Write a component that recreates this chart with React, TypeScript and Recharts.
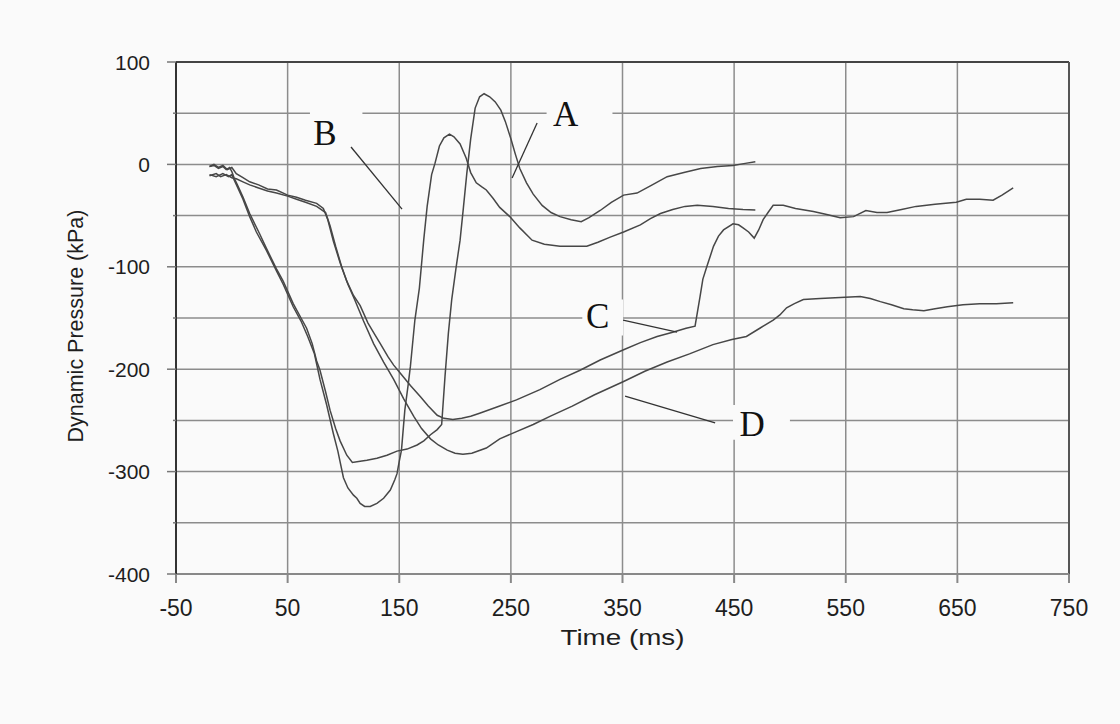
import {
  CartesianGrid,
  Label,
  Line,
  LineChart,
  ReferenceArea,
  ReferenceDot,
  ReferenceLine,
  XAxis,
  YAxis,
} from "recharts";

// axis ticks
const timeTicks = [-50, 50, 150, 250, 350, 450, 550, 650, 750];
const pressureTicks = [100, 50, 0, -50, -100, -150, -200, -250, -300, -350, -400];

// curve A (fast dive, peak ~69 kPa)
const aTime = [
  -20, -16, -12, -8, -5, -2, 0, 2, 5, 10, 16, 25, 31, 40, 46, 55, 62, 67, 72, 76, 79, 84, 88, 93, 97, 103,
  108, 115, 121, 130, 139, 148, 157, 166, 172, 178, 184, 188, 191, 194, 197, 201, 204.5, 207.5, 210.5, 214,
  218, 222, 226, 231, 236, 241, 245, 250, 254, 258, 264, 270, 278, 286, 294, 304, 313, 320, 330, 340, 351,
  363, 375, 390, 405, 420, 435, 449, 460, 469,
];
const aPressure = [
  -2, -1, -4, -2, -5, -3, -7, -13, -20, -32, -48, -68, -82, -102, -114, -136, -150, -160, -175, -192, -201,
  -222, -240, -258, -270, -284, -291, -290, -289, -287, -284, -280, -278, -274, -270, -264, -259, -254, -207,
  -165, -132, -100, -74, -42, -9, 25, 55, 66, 69, 66, 61, 53, 42, 25, 10, -4, -18, -29, -40, -47, -51, -54,
  -56, -52, -45, -37, -30, -28, -21, -12, -8, -4, -2, -1, 1, 2.6,
];

// curve B (deepest dive, peak ~30 kPa)
const bTime = [
  -20, -14, -8, -3, 0, 2, 5, 10, 16, 22, 31, 40, 46, 55, 62, 68, 74, 79, 85, 91, 95, 100, 104, 109, 112, 115,
  119, 124, 130, 136, 142, 146, 148, 150, 152, 155, 158, 160, 164, 168, 172, 175, 179, 182, 186, 190, 195,
  199, 204.5, 210, 214, 219, 224, 228, 234, 240, 249, 258, 269, 280, 294, 306, 318, 328, 339, 351, 366, 375,
  384, 395, 406, 417, 431, 445, 458, 469,
];
const bPressure = [
  -10, -12, -9, -12, -10, -15, -22, -34, -51, -66, -84, -104, -117, -139, -153, -168, -185, -210, -235, -263,
  -280, -306, -316, -323, -326, -331, -334, -334, -331, -326, -318, -308, -302, -290, -279, -240, -215, -197,
  -152, -121, -73, -41, -10, 1, 18, 26, 29.5, 27, 20, 6, -8, -18, -22, -25, -33, -42, -51, -62, -74, -78,
  -80, -80, -80, -76, -71, -66, -59, -53, -48, -44, -41, -40, -41, -43, -44, -44.5,
];

// curve C (slow dive, step near 420 ms)
const cTime = [
  -20, -16, -12, -8, -4, 0, 4, 10, 16, 24, 32, 40, 50, 58, 66, 76, 82, 86, 91, 97, 103, 109, 115, 122, 128,
  133, 140, 145, 151, 160, 169, 176, 184, 190, 198, 206, 214, 222, 240, 255, 276, 294, 312, 330, 351, 366,
  381, 395, 407, 415, 419.5, 422, 425.5, 431.5, 436, 440.5, 449, 454, 458, 463, 468, 472, 476, 481, 485, 494,
  505, 521, 533, 545, 557, 568, 578, 587, 600, 613, 630, 649, 658, 670, 682, 690, 700,
];
const cPressure = [
  -2, 0, -3, -1, -5, -3, -9, -13, -17, -20, -24, -25, -30, -32, -35, -38, -43, -54, -75, -96, -114, -128,
  -138, -155, -166, -175, -188, -196, -204, -216, -227, -236, -245, -248, -249, -248, -246, -243, -236, -230,
  -220, -210, -201, -191, -181, -174, -168, -164, -160, -158, -129, -112, -100, -80, -70, -64, -58, -59, -62,
  -66, -72, -64, -54, -46, -40, -40, -43, -46, -49, -52, -51, -45, -47, -47, -44, -41, -39, -37, -34, -34,
  -35, -30, -23,
];

// curve D (slow dive, minimum ~-283 kPa)
const dTime = [
  -20, -14, -10, -5, 0, 4, 10, 16, 24, 32, 40, 50, 58, 66, 76, 84, 88, 93, 99, 104, 110, 118, 127, 136, 145,
  154, 163, 170, 178, 185, 193, 200, 207, 215, 228, 240, 255, 270, 285, 305, 325, 351, 370, 390, 410, 431,
  448, 461, 473, 485, 491, 497, 504, 512, 527, 545, 563, 572, 581, 591, 602, 610, 620, 630, 641, 655, 670,
  685, 700,
];
const dPressure = [
  -11, -9, -12, -10, -13, -14, -17, -20, -23, -26, -28, -31, -34, -37, -41, -47, -60, -80, -102, -117, -132,
  -153, -175, -193, -210, -229, -246, -258, -268, -274, -279, -282, -283, -282, -277, -268, -261, -254, -246,
  -236, -225, -212, -202, -193, -185, -176, -171, -168, -160, -152, -147, -140, -136, -132, -131, -130, -129,
  -131, -134, -137, -141, -142, -143, -141, -139, -137, -136, -136, -135,
];

const toPoints = (t: number[], p: number[]) => t.map((time, i) => ({ time, pressure: p[i] }));

const series = [
  { name: "A", data: toPoints(aTime, aPressure) },
  { name: "B", data: toPoints(bTime, bPressure) },
  { name: "C", data: toPoints(cTime, cPressure) },
  { name: "D", data: toPoints(dTime, dPressure) },
];

// curve labels: box behind the letter, letter position, leader line
const callouts = [
  { text: "B", box: [70, 117, 66, 14], at: [83.5, 30.7], leader: [[106.8, 17], [152.5, -43.6]] },
  { text: "A", box: [282, 341, 68, 29], at: [299, 49.2], leader: [[273.5, 40.4], [251.1, -13.3]] },
  { text: "C", box: [314, 350.5, -132, -167], at: [327.7, -148], leader: [[350.5, -152], [398.9, -163.7]] },
  { text: "D", box: [449, 500, -235, -269], at: [466.2, -253.5], leader: [[352.3, -226.2], [433, -252.5]] },
];

const sans = "'Liberation Sans', Arial, sans-serif";
const serif = "'Liberation Serif', 'Times New Roman', serif";
const BG = "#fafafa";
const TEXT = "#1e1e1e";

function PressureTick({ x, y, payload }: any) {
  const major = payload.value % 100 === 0;
  return (
    <g>
      <line x1={x - (major ? 9 : 3)} x2={x} y1={y} y2={y} stroke="#777" strokeWidth={1.5} />
      {major && (
        <text x={x - 26} y={y} dy="0.36em" textAnchor="end" fontSize={21} fontFamily={sans} fill={TEXT}>
          {payload.value}
        </text>
      )}
    </g>
  );
}

function TimeTick({ x, y, payload }: any) {
  return (
    <text x={x} y={y} dy="0.71em" textAnchor="middle" fontSize={23} fontFamily={sans} fill={TEXT}>
      {payload.value}
    </text>
  );
}

export default function App() {
  return (
    <div style={{ position: "absolute", left: 0, top: 0, width: 1120, height: 724, background: BG }}>
      <LineChart width={1120} height={724} margin={{ top: 62, right: 51, bottom: 80, left: 40 }}>
        <CartesianGrid stroke="#8c8c8c" strokeWidth={1.5} />
        <XAxis
          type="number"
          dataKey="time"
          domain={[-50, 750]}
          ticks={timeTicks}
          allowDataOverflow
          height={70}
          tickSize={9}
          tickMargin={17}
          stroke="#888"
          strokeWidth={2}
          tick={<TimeTick />}
        >
          <Label
            content={({ viewBox }: any) => (
              <text
                x={viewBox.x + viewBox.width / 2}
                y={viewBox.y + 71}
                textAnchor="middle"
                fontSize={22}
                fontFamily={sans}
                fill={TEXT}
                textLength={124}
                lengthAdjust="spacingAndGlyphs"
              >
                Time (ms)
              </text>
            )}
          />
        </XAxis>
        <YAxis
          type="number"
          domain={[-400, 100]}
          ticks={pressureTicks}
          allowDataOverflow
          width={136}
          tickSize={0}
          tickMargin={0}
          tickLine={false}
          axisLine={{ stroke: "#333", strokeWidth: 2 }}
          tick={<PressureTick />}
        >
          <Label
            content={({ viewBox }: any) => {
              const cx = viewBox.x + 35;
              const cy = viewBox.y + viewBox.height / 2 + 8;
              return (
                <text
                  x={cx}
                  y={cy}
                  transform={`rotate(-90, ${cx}, ${cy})`}
                  textAnchor="middle"
                  dy="0.36em"
                  fontSize={21.5}
                  fontFamily={sans}
                  fill={TEXT}
                >
                  Dynamic Pressure (kPa)
                </text>
              );
            }}
          />
        </YAxis>
        <ReferenceLine y={100} stroke="#444" strokeWidth={2} />
        <ReferenceLine x={750} stroke="#555" strokeWidth={2} />
        {callouts.map((c) => (
          <ReferenceArea
            key={`box-${c.text}`}
            x1={c.box[0]}
            x2={c.box[1]}
            y1={c.box[2]}
            y2={c.box[3]}
            fill={BG}
            fillOpacity={1}
            stroke="none"
          />
        ))}
        {series.map((s) => (
          <Line
            key={s.name}
            data={s.data}
            dataKey="pressure"
            type="linear"
            stroke="#474747"
            strokeWidth={1.5}
            dot={false}
            isAnimationActive={false}
          />
        ))}
        {callouts.map((c) => (
          <ReferenceLine
            key={`leader-${c.text}`}
            segment={[
              { x: c.leader[0][0], y: c.leader[0][1] },
              { x: c.leader[1][0], y: c.leader[1][1] },
            ]}
            stroke="#333"
            strokeWidth={1.3}
          />
        ))}
        {callouts.map((c) => (
          <ReferenceDot
            key={`label-${c.text}`}
            x={c.at[0]}
            y={c.at[1]}
            r={0}
            fill="none"
            stroke="none"
            label={{ value: c.text, position: "center", fontSize: 35, fontFamily: serif, fill: "#111" }}
          />
        ))}
      </LineChart>
    </div>
  );
}
